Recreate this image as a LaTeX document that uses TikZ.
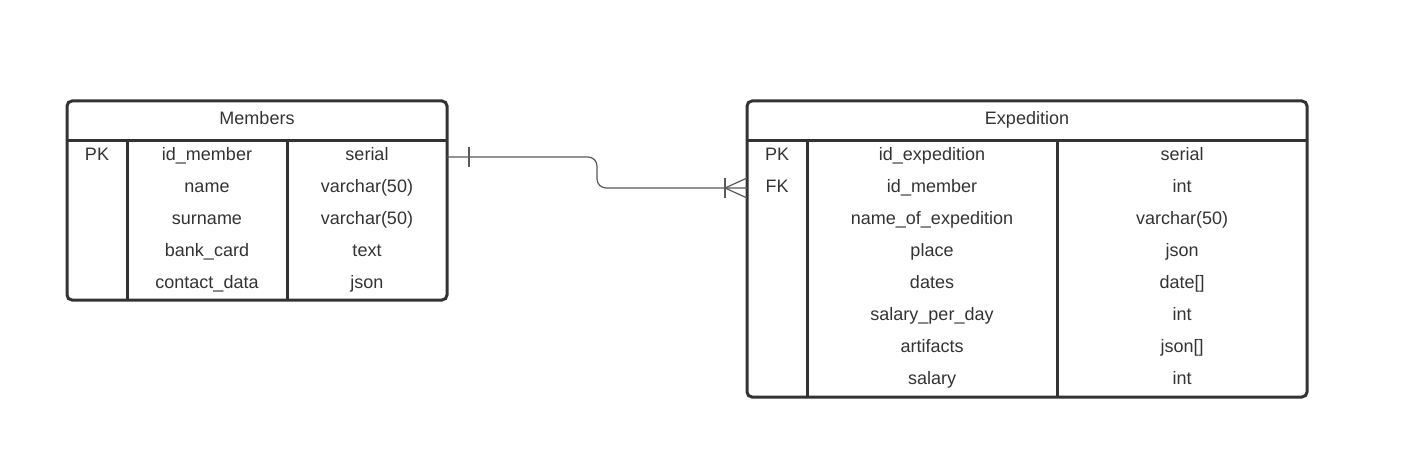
\documentclass[tikz,border=0pt]{standalone}
\usepackage{fontspec}
\setmainfont{Liberation Sans}
\usepackage{tikz}
\colorlet{ink}{black!80}
\colorlet{wire}{black!65}

\tikzset{
  tbl/.style={draw=ink, line width=3pt, rounded corners=5pt, anchor=north west, inner sep=0pt, outer sep=0pt},
  cell/.style={text=ink, font=\fontsize{18}{20}\selectfont, inner sep=0pt, anchor=base},
  rule/.style={draw=ink, line width=3pt},
  rel/.style={draw=wire, line width=1.2pt}
}

\begin{document}
\begin{tikzpicture}[x=1pt,y=-1pt]
            \useasboundingbox (0,0) rectangle (1420,476);

            % Members table
            \node [tbl, minimum width=380pt, minimum height=199pt] (members) at (67,101) {};
            \node [cell] (mhead) at (257,124.5) {Members};
            \draw [rule] (67,140) -- (447,140);
            \draw [rule] (127,140) -- (127,300);
            \draw [rule] (287,140) -- (287,300);
            \node [cell] (mkey1) at (97,160.5) {PK};
            \foreach \f/\t [count=\i] in {id\_member/serial, name/varchar(50),
                surname/varchar(50), bank\_card/text, contact\_data/json} {
                \node [cell] (mf\i) at (207,{160.5+32*(\i-1)}) {\f};
                \node [cell] (mt\i) at (367,{160.5+32*(\i-1)}) {\t};
            }

            % Expedition table
            \node [tbl, minimum width=560pt, minimum height=296pt] (expedition) at (747,101) {};
            \node [cell] (ehead) at (1027,124.5) {Expedition};
            \draw [rule] (747,140) -- (1307,140);
            \draw [rule] (807,140) -- (807,397);
            \draw [rule] (1057,140) -- (1057,397);
            \node [cell] (ekey1) at (777,160.5) {PK};
            \node [cell] (ekey2) at (777,192.5) {FK};
            \foreach \f/\t [count=\i] in {id\_expedition/serial, id\_member/int,
                name\_of\_expedition/varchar(50), place/json, dates/date[],
                salary\_per\_day/int, artifacts/json[], salary/int} {
                \node [cell] (ef\i) at (932,{160.5+32*(\i-1)}) {\f};
                \node [cell] (et\i) at (1182,{160.5+32*(\i-1)}) {\t};
            }

            % one-to-many relation
            \coordinate (one) at (members.east |- 0,157);
            \coordinate (many) at (expedition.west |- 0,188);
            \draw [rel, rounded corners=9pt] (one) -- (597,157) -- (597,188) -- (many);
            \draw [rel] ([xshift=22pt]one) ++(0,-10) -- ++(0,20);
            \draw [rel] ([xshift=-22pt]many) ++(0,-10) -- ++(0,20);
            \draw [rel] ([yshift=-10pt]many) -- ([xshift=-22pt]many) -- ([yshift=10pt]many);
        \end{tikzpicture}
\end{document}
